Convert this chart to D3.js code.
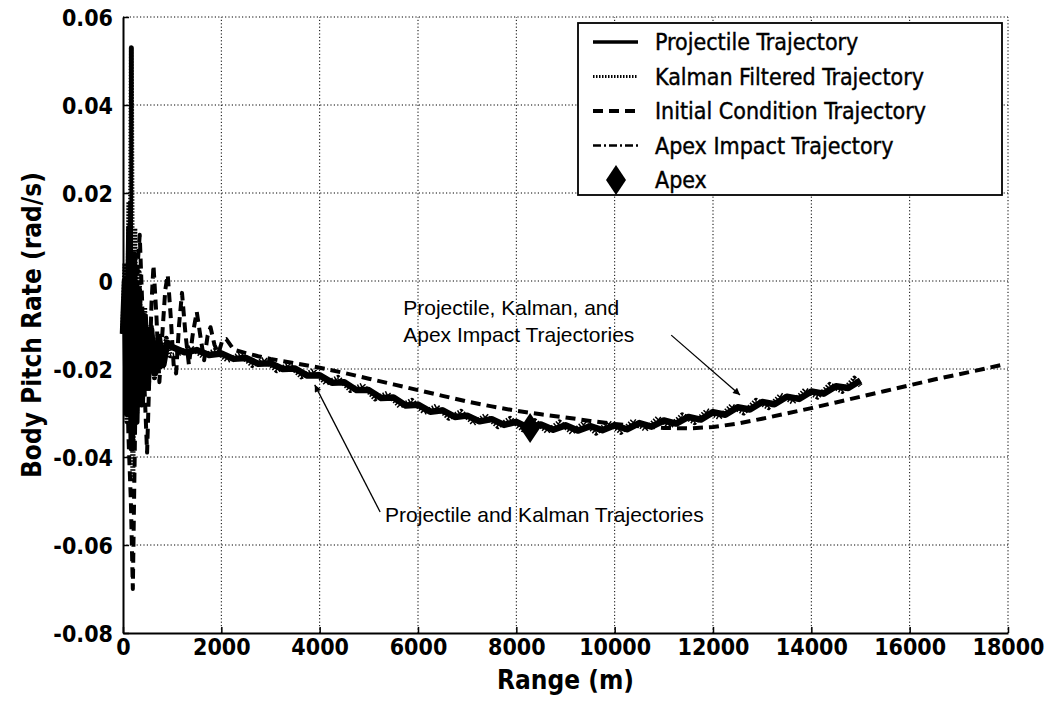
<!DOCTYPE html>
<html>
<head>
<meta charset="utf-8">
<script src="https://cdn.jsdelivr.net/npm/d3@7"></script>
<style>
  html, body { margin: 0; padding: 0; background: #fff; }
  svg { display: block; }
  .tick text { font-family: "DejaVu Sans Condensed", "DejaVu Sans", sans-serif; font-weight: bold; font-size: 23px; fill: #000; }
  .title { font-family: "DejaVu Sans Condensed", "DejaVu Sans", sans-serif; font-weight: bold; font-size: 26px; fill: #000; }
  .legend text { font-family: "DejaVu Sans Condensed", "DejaVu Sans", sans-serif; font-size: 23px; fill: #000; stroke: #000; stroke-width: 0.4px; }
  .note { font-family: "Liberation Sans", Arial, sans-serif; font-size: 21px; fill: #000; }
</style>
</head>
<body>
<svg id="chart" width="1054" height="706"></svg>
<script>
// Body pitch rate vs. downrange distance for four trajectory estimates.

// Axis ticks
const xTicks = [0, 2000, 4000, 6000, 8000, 10000, 12000, 14000, 16000, 18000];
const yTicks = [-0.08, -0.06, -0.04, -0.02, 0, 0.02, 0.04, 0.06];
const yTickLabels = ["-0.08", "-0.06", "-0.04", "-0.02", "0", "0.02", "0.04", "0.06"];

// Series: [range (m), pitch rate (rad/s)]
const projectile = [
  [0,-0.012],[40,0.0],[80,-0.03],[130,0.012],[180,-0.038],[220,0.006],[270,-0.032],[320,-0.002],
  [380,-0.028],[440,-0.008],[500,-0.024],[570,-0.011],[650,-0.021],[730,-0.013],[820,-0.019],[900,-0.014],
  [1000,-0.0150],[1250,-0.0162],[1500,-0.0157],[1750,-0.0168],[2000,-0.0165],[2250,-0.0177],[2500,-0.0175],
  [2750,-0.0188],[3000,-0.0187],[3250,-0.0200],[3500,-0.0199],[3750,-0.0215],[4000,-0.0214],[4250,-0.0231],
  [4500,-0.0230],[4750,-0.0248],[5000,-0.0248],[5250,-0.0266],[5500,-0.0265],[5750,-0.0283],[6000,-0.0281],
  [6250,-0.0297],[6500,-0.0294],[6750,-0.0309],[7000,-0.0306],[7250,-0.0319],[7500,-0.0314],[7750,-0.0327],
  [8000,-0.0320],[8250,-0.0334],[8500,-0.0326],[8750,-0.0338],[9000,-0.0328],[9250,-0.0340],[9500,-0.0330],
  [9750,-0.0339],[10000,-0.0328],[10250,-0.0337],[10500,-0.0323],[10750,-0.0331],[11000,-0.0317],
  [11250,-0.0324],[11500,-0.0309],[11750,-0.0315],[12000,-0.0298],[12250,-0.0304],[12500,-0.0287],
  [12750,-0.0292],[13000,-0.0275],[13250,-0.0280],[13500,-0.0263],[13750,-0.0268],[14000,-0.0251],
  [14250,-0.0256],[14500,-0.0239],[14750,-0.0243],[15000,-0.0226]
];

const kalman = [
  [0,-0.010],[40,0.004],[80,-0.032],[120,0.018],[140,-0.02],[170,0.053],[200,-0.045],[240,0.012],
  [280,-0.03],[330,0.002],[380,-0.028],[440,-0.006],[500,-0.025],[570,-0.010],[640,-0.022],[720,-0.012],
  [800,-0.020],[880,-0.013],[960,-0.017],
  [1125,-0.0166],[1375,-0.0150],[1625,-0.0172],[1875,-0.0157],[2125,-0.0181],[2375,-0.0166],[2625,-0.0192],
  [2875,-0.0177],[3125,-0.0204],[3375,-0.0189],[3625,-0.0218],[3875,-0.0203],[4125,-0.0233],[4375,-0.0219],
  [4625,-0.0249],[4875,-0.0236],[5125,-0.0268],[5375,-0.0255],[5625,-0.0285],[5875,-0.0271],[6125,-0.0299],
  [6375,-0.0284],[6625,-0.0312],[6875,-0.0296],[7125,-0.0324],[7375,-0.0305],[7625,-0.0331],[7875,-0.0312],
  [8125,-0.0338],[8375,-0.0317],[8625,-0.0343],[8875,-0.0320],[9125,-0.0345],[9375,-0.0322],[9625,-0.0346],
  [9875,-0.0321],[10125,-0.0344],[10375,-0.0317],[10625,-0.0338],[10875,-0.0311],[11125,-0.0331],
  [11375,-0.0304],[11625,-0.0322],[11875,-0.0294],[12125,-0.0311],[12375,-0.0283],[12625,-0.0300],
  [12875,-0.0271],[13125,-0.0288],[13375,-0.0259],[13625,-0.0276],[13875,-0.0247],[14125,-0.0264],
  [14375,-0.0235],[14625,-0.0251],[14875,-0.0221],[15000,-0.0238]
];

const initialCondition = [
  [0,-0.012],[50,-0.004],[110,-0.035],[160,-0.05],[200,-0.070],[250,-0.03],[300,0.004],[340,0.0105],
  [390,-0.005],[440,-0.025],[490,-0.039],[540,-0.02],[580,-0.005],[620,0.0036],[680,-0.008],[740,-0.023],
  [800,-0.012],[860,-0.002],[910,0.0014],[970,-0.008],[1030,-0.019],[1080,-0.021],[1140,-0.01],
  [1200,-0.0027],[1270,-0.012],[1340,-0.019],[1420,-0.012],[1500,-0.007],[1580,-0.013],[1650,-0.018],
  [1720,-0.0125],[1780,-0.0105],[1860,-0.0145],[1940,-0.0165],[2020,-0.0135],[2100,-0.0132],
  [2250,-0.0156],[2500,-0.0164],[2750,-0.0171],[3000,-0.0177],[3500,-0.0187],[4000,-0.0197],
  [4500,-0.0209],[5000,-0.0222],[5500,-0.0235],[6000,-0.0248],[6500,-0.0261],[7000,-0.0274],
  [7500,-0.0285],[8000,-0.0295],[8500,-0.0303],[9000,-0.0310],[9500,-0.0318],[10000,-0.0325],
  [10500,-0.0330],[11000,-0.0334],[11500,-0.0335],[12000,-0.0332],[12500,-0.0324],[13000,-0.0313],
  [13500,-0.0301],[14000,-0.0289],[14500,-0.0276],[15000,-0.0263],[15500,-0.0250],[16000,-0.0237],
  [16500,-0.0224],[17000,-0.0212],[17500,-0.0200],[17900,-0.0190]
];

const apexImpact = [
  [8280,-0.0334],[8500,-0.0331],[8750,-0.0336],[9000,-0.0331],[9250,-0.0338],[9500,-0.0333],[9750,-0.0337],
  [10000,-0.0331],[10250,-0.0334],[10500,-0.0326],[10750,-0.0329],[11000,-0.0320],[11250,-0.0321],
  [11500,-0.0311],[11750,-0.0312],[12000,-0.0300],[12250,-0.0300],[12500,-0.0289],[12750,-0.0289],
  [13000,-0.0277],[13250,-0.0277],[13500,-0.0265],[13750,-0.0265],[14000,-0.0253],[14250,-0.0253],
  [14500,-0.0241],[14750,-0.0240],[15000,-0.0228]
];

const apex = [[8280, -0.0334]];

const legendLabels = ["Projectile Trajectory", "Kalman Filtered Trajectory",
  "Initial Condition Trajectory", "Apex Impact Trajectory", "Apex"];

// Callout notes: text anchor and arrow in data coordinates
const notes = [
  { lines: ["Projectile, Kalman, and", "Apex Impact Trajectories"], at: [5700, -0.0077],
    from: [11150, -0.0123], to: [12550, -0.0259] },
  { lines: ["Projectile and Kalman Trajectories"], at: [5330, -0.0548],
    from: [5230, -0.0525], to: [3900, -0.0236] }
];

const svg = d3.select("#chart");
const W = 1054, H = 706;
const m = { left: 123, right: W - 1008, top: 17, bottom: H - 633 };

const x = d3.scaleLinear().domain([0, 18000]).range([m.left, W - m.right]);
const y = d3.scaleLinear().domain([-0.08, 0.06]).range([H - m.bottom, m.top]);

svg.append("rect").attr("width", W).attr("height", H).attr("fill", "#fff");

// Dotted grid (also closes the top and right of the frame)
const grid = svg.append("g").attr("stroke", "#000").attr("stroke-width", 1)
  .attr("stroke-dasharray", "1.2,2.2");
grid.selectAll("line.v").data(xTicks.slice(1)).join("line")
  .attr("x1", d => x(d)).attr("x2", d => x(d))
  .attr("y1", y(-0.08)).attr("y2", y(0.06));
grid.selectAll("line.h").data(yTicks.slice(1)).join("line")
  .attr("y1", d => y(d)).attr("y2", d => y(d))
  .attr("x1", x(0)).attr("x2", x(18000));

// Axes with inward ticks
const xAxis = svg.append("g").attr("transform", `translate(0,${y(-0.08)})`)
  .call(d3.axisBottom(x).tickValues(xTicks).tickFormat(d3.format("d"))
    .tickSizeInner(-6).tickSizeOuter(0).tickPadding(8));
const yAxis = svg.append("g").attr("transform", `translate(${x(0)},0)`)
  .call(d3.axisLeft(y).tickValues(yTicks).tickFormat((d, i) => yTickLabels[i])
    .tickSizeInner(-6).tickSizeOuter(0).tickPadding(10));
[xAxis, yAxis].forEach(a => {
  a.select(".domain").attr("stroke", "#000").attr("stroke-width", 2);
  a.selectAll(".tick line").attr("stroke", "#000").attr("stroke-width", 1.5);
});
xAxis.selectAll(".tick text").attr("dy", "0.6em");
yAxis.selectAll(".tick text").attr("dy", "0.35em");

svg.append("text").attr("class", "title")
  .attr("x", (x(0) + x(18000)) / 2).attr("y", 689).attr("text-anchor", "middle")
  .text("Range (m)");
svg.append("text").attr("class", "title")
  .attr("transform", `translate(41,${(y(0.06) + y(-0.08)) / 2}) rotate(-90)`)
  .attr("text-anchor", "middle").text("Body Pitch Rate (rad/s)");

// Trajectories
const line = d3.line().x(d => x(d[0])).y(d => y(d[1]));
const styles = {
  projectile: { w: 6.5, dash: null, legendW: 3.5 },
  kalman: { w: 5, dash: "1.5,1.5", legendW: 3 },
  initial: { w: 4, dash: "10,6", legendW: 3.8 },
  apexImpact: { w: 3.5, dash: "8,3,2,3", legendW: 2.5 }
};
const plot = svg.append("g").attr("fill", "none").attr("stroke", "#000")
  .attr("stroke-linejoin", "round");
plot.append("path").datum(initialCondition).attr("d", line)
  .attr("stroke-width", styles.initial.w).attr("stroke-dasharray", styles.initial.dash);
plot.append("path").datum(projectile).attr("d", line)
  .attr("stroke-width", styles.projectile.w);
plot.append("path").datum(kalman).attr("d", line)
  .attr("stroke-width", styles.kalman.w).attr("stroke-dasharray", styles.kalman.dash);
plot.append("path").datum(apexImpact).attr("d", line)
  .attr("stroke-width", styles.apexImpact.w).attr("stroke-dasharray", styles.apexImpact.dash);

const diamond = "M0,-15L10,0L0,15L-10,0Z";
svg.selectAll("path.apex").data(apex).join("path").attr("class", "apex")
  .attr("d", diamond).attr("fill", "#000")
  .attr("transform", d => `translate(${x(d[0])},${y(d[1])})`);

// Callouts
svg.append("defs").append("marker").attr("id", "head")
  .attr("viewBox", "0 0 10 10").attr("refX", 10).attr("refY", 5)
  .attr("markerWidth", 9).attr("markerHeight", 7).attr("markerUnits", "userSpaceOnUse")
  .attr("orient", "auto")
  .append("path").attr("d", "M0,0L10,5L0,10Z").attr("fill", "#000");
notes.forEach(n => {
  svg.append("line")
    .attr("x1", x(n.from[0])).attr("y1", y(n.from[1]))
    .attr("x2", x(n.to[0])).attr("y2", y(n.to[1]))
    .attr("stroke", "#000").attr("stroke-width", 1.3).attr("marker-end", "url(#head)");
  const t = svg.append("text").attr("class", "note")
    .attr("x", x(n.at[0])).attr("y", y(n.at[1]));
  n.lines.forEach((s, i) => t.append("tspan").attr("x", x(n.at[0]))
    .attr("dy", i ? 27 : 0).text(s));
});

// Legend
const lg = svg.append("g").attr("class", "legend");
lg.append("rect").attr("x", 578).attr("y", 23).attr("width", 424).attr("height", 172)
  .attr("fill", "#fff").attr("stroke", "#000").attr("stroke-width", 1.8);
const rowY = i => 42 + i * 34.5;
const legendStyles = [styles.projectile, styles.kalman, styles.initial, styles.apexImpact];
legendStyles.forEach((s, i) => {
  lg.append("line").attr("x1", 593).attr("x2", 638).attr("y1", rowY(i)).attr("y2", rowY(i))
    .attr("stroke", "#000").attr("stroke-width", s.legendW).attr("stroke-dasharray", s.dash);
});
lg.append("path").attr("d", diamond).attr("fill", "#000")
  .attr("transform", `translate(616,${rowY(4)})`);
lg.selectAll("text").data(legendLabels).join("text")
  .attr("x", 655).attr("y", (d, i) => rowY(i)).attr("dy", "0.36em").text(d => d);
</script>
</body>
</html>
